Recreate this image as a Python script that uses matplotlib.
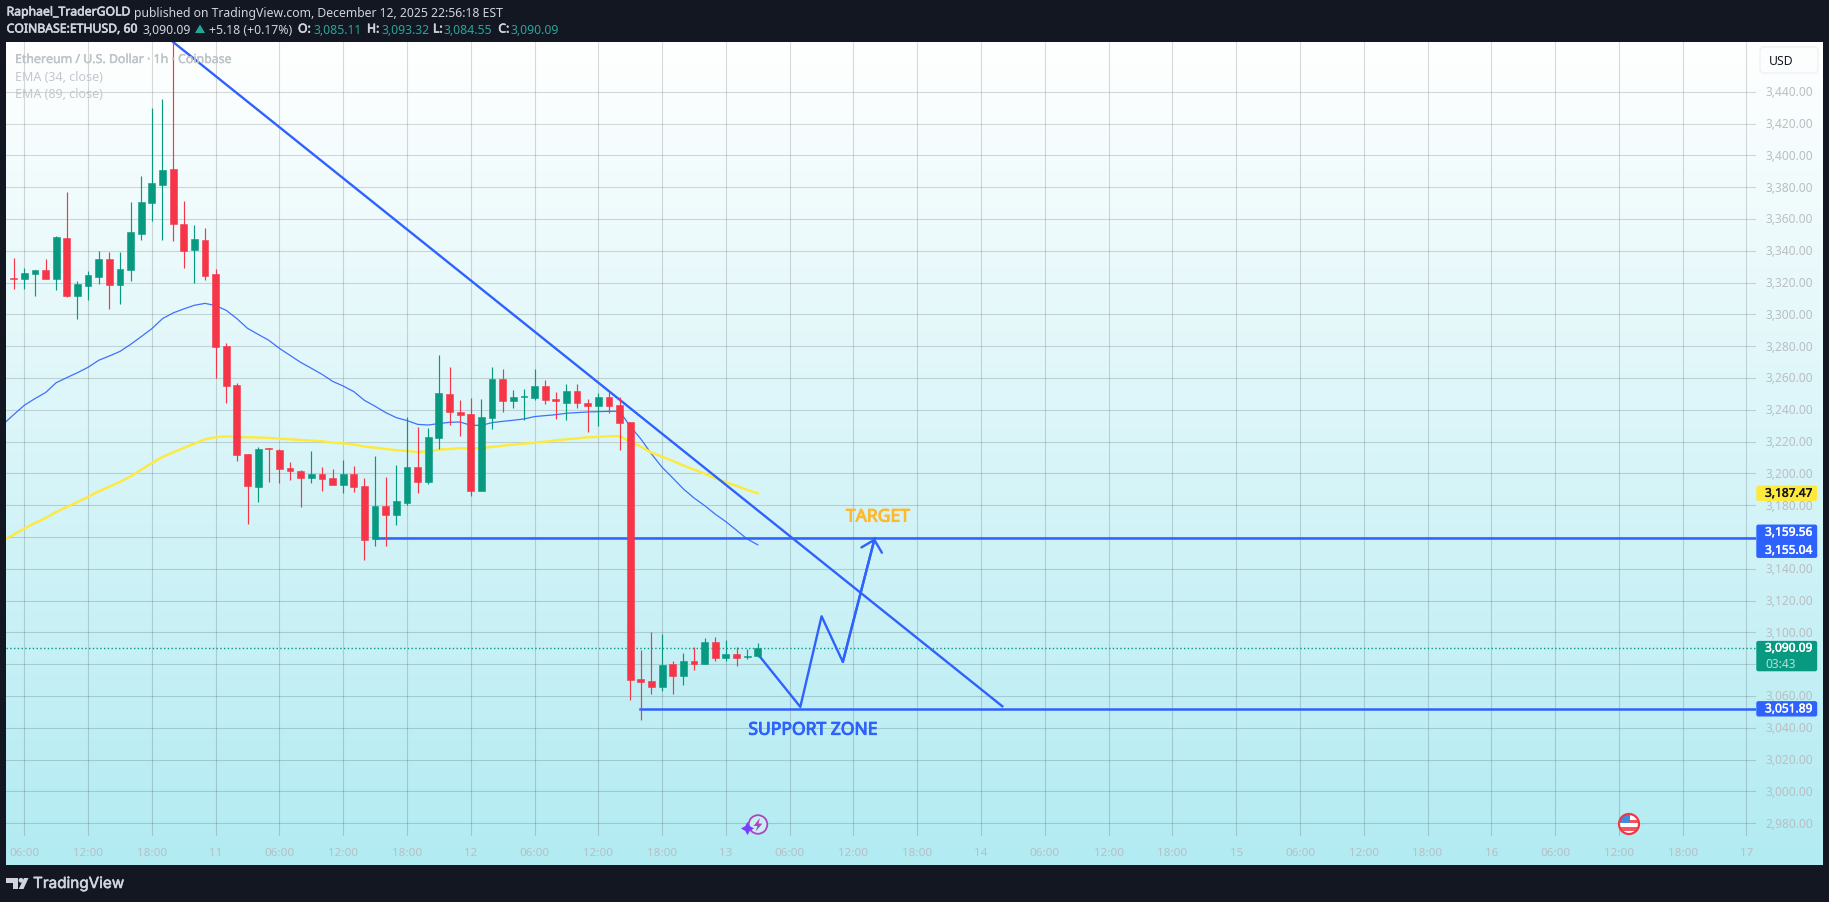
import numpy as np
import matplotlib
matplotlib.use('Agg')
import matplotlib.pyplot as plt
import matplotlib.patheffects as pe
from matplotlib.colors import LinearSegmentedColormap
from matplotlib.patches import Circle, FancyBboxPatch, Polygon, Rectangle
from matplotlib.transforms import ScaledTranslation

# candles, one per hour, first one is 10 Dec 05:00
opens = [3323.1, 3322.4, 3325.6, 3328.1, 3322.4, 3348.2, 3311.8, 3318.0, 3323.7, 3335.0,
         3318.7, 3328.1, 3350.7, 3370.2, 3381.6, 3391.6, 3357.0, 3340.7, 3347.0, 3325.6,
         3280.3, 3255.8, 3212.4, 3191.6, 3215.8, 3214.9, 3203.6, 3201.7, 3197.3, 3199.8,
         3197.3, 3192.9, 3199.8, 3192.3, 3159.0, 3179.7, 3174.0, 3181.6, 3204.2, 3194.6,
         3222.3, 3249.9, 3238.6, 3237.3, 3188.9, 3234.8, 3259.4, 3245.5, 3248.0, 3247.4,
         3254.9, 3246.8, 3244.3, 3251.8, 3244.3, 3242.4, 3248.0, 3243.0, 3232.3, 3070.7,
         3069.5, 3065.7, 3080.1, 3072.6, 3082.0, 3080.1, 3094.0, 3083.9, 3086.4, 3084.5, 3085.11]
highs = [3335.6, 3329.4, 3328.1, 3335.0, 3349.5, 3377.1, 3321.2, 3327.5, 3340.0, 3339.4,
         3339.4, 3370.9, 3387.2, 3430.0, 3435.6, 3478.0, 3371.5, 3356.4, 3354.5, 3328.7,
         3282.2, 3257.0, 3212.4, 3216.8, 3216.2, 3215.5, 3207.4, 3202.3, 3214.3, 3204.2,
         3203.0, 3208.6, 3204.9, 3197.3, 3211.1, 3197.9, 3205.5, 3235.7, 3229.4, 3228.5,
         3274.4, 3266.9, 3246.1, 3247.4, 3246.8, 3266.9, 3265.6, 3252.4, 3253.1, 3265.6,
         3258.7, 3251.2, 3256.2, 3256.2, 3246.8, 3250.5, 3251.8, 3248.0, 3232.3, 3088.9,
         3100.3, 3099.0, 3082.0, 3087.1, 3090.8, 3096.5, 3097.1, 3095.2, 3090.8, 3089.6, 3093.32]
lows = [3315.7, 3316.2, 3311.8, 3322.4, 3315.1, 3311.1, 3296.9, 3309.2, 3319.3, 3303.6,
        3306.7, 3321.2, 3347.0, 3358.9, 3347.0, 3346.3, 3329.4, 3319.9, 3321.8, 3260.2,
        3244.5, 3208.0, 3168.4, 3182.2, 3194.8, 3194.2, 3196.1, 3179.1, 3194.2, 3189.1,
        3192.9, 3187.9, 3188.5, 3145.7, 3154.6, 3154.6, 3167.8, 3180.3, 3187.9, 3193.3,
        3215.3, 3230.4, 3223.5, 3185.8, 3188.9, 3227.9, 3238.6, 3241.1, 3233.6, 3246.1,
        3243.6, 3234.2, 3233.6, 3241.1, 3226.0, 3229.8, 3238.0, 3214.7, 3057.5, 3044.9,
        3061.3, 3063.2, 3061.3, 3066.9, 3076.4, 3080.1, 3082.0, 3082.0, 3078.9, 3083.3, 3084.55]
closes = [3322.4, 3326.2, 3328.1, 3322.4, 3348.9, 3311.8, 3319.3, 3325.0, 3335.0, 3318.7,
          3328.7, 3352.0, 3370.9, 3382.8, 3391.0, 3357.0, 3340.0, 3347.6, 3324.3, 3279.7,
          3255.2, 3211.8, 3192.3, 3215.5, 3215.1, 3203.0, 3201.7, 3197.3, 3199.8, 3196.7,
          3192.9, 3199.8, 3191.6, 3158.3, 3179.7, 3174.0, 3182.8, 3204.2, 3194.8, 3222.9,
          3250.5, 3238.6, 3236.7, 3188.9, 3235.5, 3259.4, 3245.5, 3248.0, 3248.7, 3254.9,
          3246.1, 3245.5, 3251.8, 3244.3, 3242.4, 3248.0, 3242.4, 3231.7, 3070.1, 3068.8,
          3065.7, 3079.5, 3072.6, 3082.0, 3080.1, 3094.0, 3083.9, 3086.4, 3083.9, 3085.2, 3090.09]

# both EMAs start one hour before the first visible candle
ema34 = [3230.8, 3236.9, 3242.8, 3247.0, 3250.8, 3257.0, 3260.2, 3263.3, 3266.7, 3271.1,
         3273.8, 3276.7, 3281.1, 3286.0, 3291.0, 3297.3, 3300.9, 3303.4, 3305.7, 3306.9,
         3305.5, 3302.5, 3297.3, 3291.2, 3287.4, 3283.7, 3278.6, 3274.2, 3269.8, 3266.1,
         3262.3, 3257.9, 3254.9, 3251.4, 3245.9, 3242.2, 3238.2, 3235.0, 3233.2, 3230.8,
         3230.4, 3231.3, 3232.1, 3232.3, 3230.2, 3230.2, 3231.9, 3232.7, 3233.4, 3234.2,
         3235.7, 3236.3, 3236.9, 3237.8, 3238.2, 3238.6, 3238.8, 3239.0, 3239.0, 3229.6,
         3221.6, 3212.2, 3203.8, 3197.1, 3190.2, 3184.5, 3179.7, 3174.3, 3169.6, 3164.2,
         3158.7, 3155.04]
ema89 = [3157.9, 3161.5, 3165.2, 3168.8, 3171.9, 3175.7, 3178.9, 3182.0, 3185.2, 3188.7,
         3191.6, 3194.6, 3198.1, 3202.3, 3206.5, 3210.3, 3213.2, 3216.0, 3218.7, 3221.4,
         3222.7, 3223.3, 3222.9, 3222.7, 3222.5, 3222.3, 3221.8, 3221.4, 3221.0, 3220.6,
         3220.2, 3219.3, 3218.9, 3218.1, 3216.8, 3216.2, 3215.3, 3214.5, 3214.1, 3213.4,
         3213.9, 3214.9, 3215.3, 3215.8, 3215.8, 3216.0, 3216.6, 3217.4, 3218.1, 3218.7,
         3219.3, 3219.9, 3220.8, 3221.4, 3222.0, 3222.7, 3222.9, 3223.3, 3223.5, 3219.9,
         3216.8, 3213.0, 3210.5, 3207.8, 3204.9, 3202.3, 3199.8, 3196.9, 3194.4, 3192.1,
         3189.6, 3187.47]

# hand drawn lines, hours counted from 10 Dec 06:00
trend_hours = [14, 92]
trend_prices = [3471.3, 3053.5]
path_hours = [69.2, 73, 75, 77, 80]
path_prices = [3084.7, 3053.1, 3110.1, 3081.4, 3159.2]
target_level = 3159.56
target_start = 33.1
support_level = 3051.89
support_start = 57.9
last_price = 3090.09

price_ticks = list(range(2980, 3441, 20))
time_labels = ['06:00', '12:00', '18:00', '11', '06:00', '12:00', '18:00', '12',
               '06:00', '12:00', '18:00', '13', '06:00', '12:00', '18:00', '14',
               '06:00', '12:00', '18:00', '15', '06:00', '12:00', '18:00', '16',
               '06:00', '12:00', '18:00', '17']

BLUE = '#2e62ff'
GREEN = '#089981'
RED = '#f63648'
YELLOW = '#ffe93b'
DARK = '#131722'
AXIS_TEXT = '#b9bfc4'
HEAD_TEXT = '#d1d4dc'
TEAL = '#26a69a'

plt.rcParams['font.family'] = ['Noto Sans', 'DejaVu Sans']

W, H = 1829, 903
fig = plt.figure(figsize=(W / 100, H / 100), dpi=100, facecolor=DARK)


def box(left, top, right, bottom):
    return [left / W, 1 - bottom / H, (right - left) / W, (bottom - top) / H]


def heavy(t, color, amount=0.45):
    # the installed Noto Sans has no heavier cut, so thicken with a stroke
    t.set_path_effects([pe.withStroke(linewidth=amount, foreground=color)])
    return t


# pane background
bg = fig.add_axes(box(6, 43, 1822.5, 866))
cmap = LinearSegmentedColormap.from_list('pane', ['#ffffff', '#b2ebf2'])
bg.imshow(np.linspace(0, 1, 256).reshape(-1, 1), aspect='auto', cmap=cmap)
bg.set_xticks([])
bg.set_yticks([])
for s in bg.spines.values():
    s.set_visible(False)

# main chart
ax = fig.add_axes(box(6, 43, 1756, 837))
ax.patch.set_alpha(0)
ax.set_xlim(-1.72, 162.9)
ax.set_ylim(2971.9, 3471.3)
for s in ax.spines.values():
    s.set_visible(False)

ax.set_xticks(np.arange(len(time_labels)) * 6)
ax.set_xticklabels(time_labels)
ax.set_yticks(price_ticks)
ax.set_yticklabels([f'{p:,.2f}' for p in price_ticks])
ax.yaxis.tick_right()
ax.tick_params(axis='x', length=0, pad=7.6, labelsize=8.4, labelcolor=AXIS_TEXT)
ax.tick_params(axis='y', length=0, pad=6.5, labelsize=8.6, labelcolor=AXIS_TEXT)
ax.grid(True, color='black', alpha=0.15, lw=0.8)
ax.set_axisbelow(True)
# price labels sit a little above their grid line
lift = ScaledTranslation(0, 1.5 / 100, fig.dpi_scale_trans)
for t in ax.get_yticklabels():
    t.set_transform(t.get_transform() + lift)

ema_hours = np.arange(len(ema34)) - 2
ax.plot(ema_hours, ema34, color=BLUE, lw=0.9, alpha=0.9, zorder=2)
ax.plot(ema_hours, ema89, color=YELLOW, lw=1.7, zorder=2)

ax.plot(trend_hours, trend_prices, color=BLUE, lw=1.7, zorder=3)
ax.plot([target_start, 162.9], [target_level, target_level], color=BLUE, lw=1.8, zorder=3)
ax.plot([support_start, 162.9], [support_level, support_level], color=BLUE, lw=1.8, zorder=3)
ax.axhline(last_price, color=GREEN, lw=1.0, ls=(0, (1, 1.7)), zorder=3)
ax.plot(path_hours, path_prices, color=BLUE, lw=1.7, zorder=3)
ax.annotate('', xy=(path_hours[-1], path_prices[-1]), xytext=(path_hours[-2], path_prices[-2]),
            arrowprops=dict(arrowstyle='->,head_length=0.76,head_width=0.76', color=BLUE, lw=1.7,
                            shrinkA=0, shrinkB=0, mutation_scale=10), zorder=3)

hours = np.arange(len(opens)) - 1
colors = [GREEN if c >= o else RED for o, c in zip(opens, closes)]
ax.vlines(hours, lows, highs, colors=colors, lw=0.85, zorder=4)
ax.bar(hours, np.abs(np.array(closes) - np.array(opens)), bottom=np.minimum(opens, closes),
       width=0.64, color=colors, edgecolor=colors, lw=0.4, zorder=4)

heavy(ax.text(80.3, 3172.8, 'TARGET', color='#ffb92e', fontsize=12.6,
              ha='center', va='center', zorder=5), '#ffb92e', 0.7)
heavy(ax.text(74.2, 3038.8, 'SUPPORT ZONE', color=BLUE, fontsize=12.6,
              ha='center', va='center', zorder=5), BLUE, 0.7)

# pixel overlay for the parts around the chart
ov = fig.add_axes([0, 0, 1, 1])
ov.set_xlim(0, W)
ov.set_ylim(H, 0)
ov.axis('off')
ov.patch.set_alpha(0)


def price_px(p):
    return H - ax.transData.transform((0, p))[1]


def label_box(top, bottom, color):
    ov.add_patch(FancyBboxPatch((1757, top + 1), 59.5, bottom - top - 2,
                                boxstyle='round,pad=0,rounding_size=1.5', fc=color, ec=color, lw=1))


def label_text(y, txt, color='white', stroke=0.35):
    t = ov.text(1765, y, txt, color=color, fontsize=8.6, ha='left', va='center')
    if stroke:
        heavy(t, color, stroke)


py = price_px(3187.47)
label_box(py - 8, py + 8, YELLOW)
label_text(py, '3,187.47', DARK)

py = price_px((3159.56 + 3155.04) / 2)
label_box(py - 17, py + 17, BLUE)
label_text(py - 9, '3,159.56')
label_text(py + 9, '3,155.04')

py = price_px(last_price)
label_box(py - 7.5, py + 23.5, GREEN)
label_text(py, '3,090.09')
label_text(py + 15, '03:43', '#b5e0d8', 0)

py = price_px(support_level)
label_box(py - 8, py + 8, BLUE)
label_text(py, '3,051.89')

# currency button
ov.add_patch(FancyBboxPatch((1760, 48), 58, 26, boxstyle='round,pad=0,rounding_size=4',
                            fc='#fcfefe', ec='#eef1f3', lw=1))
ov.text(1769, 61.5, 'USD', color=DARK, fontsize=8.8, ha='left', va='center')

# legend
heavy(ov.text(15, 60.5, 'Ethereum / U.S. Dollar · 1h · Coinbase', color='#bfc3c7', fontsize=8.9,
              ha='left', va='center'), '#bfc3c7', 0.3)
ov.text(15, 77.5, 'EMA (34, close)', color='#c4c8cc', fontsize=9.0, ha='left', va='center')
ov.text(15, 94.5, 'EMA (89, close)', color='#c4c8cc', fontsize=9.0, ha='left', va='center')

# header, every piece sits where it sits in the original
row1, row2 = 13, 30
head = [(6.6, row1, 'Raphael_TraderGOLD', HEAD_TEXT, True),
        (134.3, row1, 'published on TradingView.com, December 12, 2025 22:56:18 EST', HEAD_TEXT, False),
        (6.6, row2, 'COINBASE:ETHUSD, 60', HEAD_TEXT, True),
        (142.7, row2, '3,090.09', HEAD_TEXT, False),
        (209, row2, '+5.18 (+0.17%)', HEAD_TEXT, False),
        (298, row2, 'O:', HEAD_TEXT, True),
        (313, row2, '3,085.11', TEAL, False),
        (367, row2, 'H:', HEAD_TEXT, True),
        (381, row2, '3,093.32', TEAL, False),
        (433, row2, 'L:', HEAD_TEXT, True),
        (444, row2, '3,084.55', TEAL, False),
        (498.3, row2, 'C:', HEAD_TEXT, True),
        (510.3, row2, '3,090.09', TEAL, False)]
for x, y, txt, col, strong in head:
    t = ov.text(x, y, txt, color=col, fontsize=8.8, ha='left', va='center')
    if strong:
        heavy(t, col)
ov.add_patch(Polygon([(195, 34), (205, 34), (200, 25.5)], fc=TEAL, ec='none'))

# TradingView logo
ov.add_patch(Polygon([(6, 879), (18, 879), (18, 890), (12.5, 890), (12.5, 884), (6, 884)],
                     fc=HEAD_TEXT, ec='none'))
ov.add_patch(Circle((21, 881.3), 2.4, fc=HEAD_TEXT, ec='none'))
ov.add_patch(Polygon([(24, 879), (28.5, 879), (23.5, 890), (18.7, 890)], fc=HEAD_TEXT, ec='none'))
heavy(ov.text(33, 884.5, 'TradingView', color=HEAD_TEXT, fontsize=11, family='Inter',
              ha='left', va='center'), HEAD_TEXT, 0.4)

# event icons
ov.add_patch(Circle((758, 825.5), 9.3, fc='#c8eef3', ec='#ab47bc', lw=1.3))
ov.add_patch(Polygon([(760, 819), (753.5, 827), (757.5, 827), (755.5, 832.5), (762.5, 824.5), (758.5, 824.5)],
                     fc='#ab47bc', ec='none'))
ov.scatter([746.7], [829.3], marker=(4, 1, 0), s=90, color='#7c3cff', lw=0)

flag = Circle((1629, 825), 10, fc='white', ec='none', zorder=6)
ov.add_patch(flag)
for y_top in (821, 828.5):
    r = Rectangle((1618, y_top), 22, 3.5, fc='#f2545f', ec='none', zorder=7)
    ov.add_patch(r)
    r.set_clip_path(flag)
canton = Rectangle((1618, 814), 11.5, 10.5, fc='#3d8ee0', ec='none', zorder=8)
ov.add_patch(canton)
canton.set_clip_path(flag)
ov.add_patch(Circle((1629, 825), 10, fc='none', ec='#f23645', lw=1.6, zorder=9))

fig.savefig('out.png', dpi=100, facecolor=DARK)
